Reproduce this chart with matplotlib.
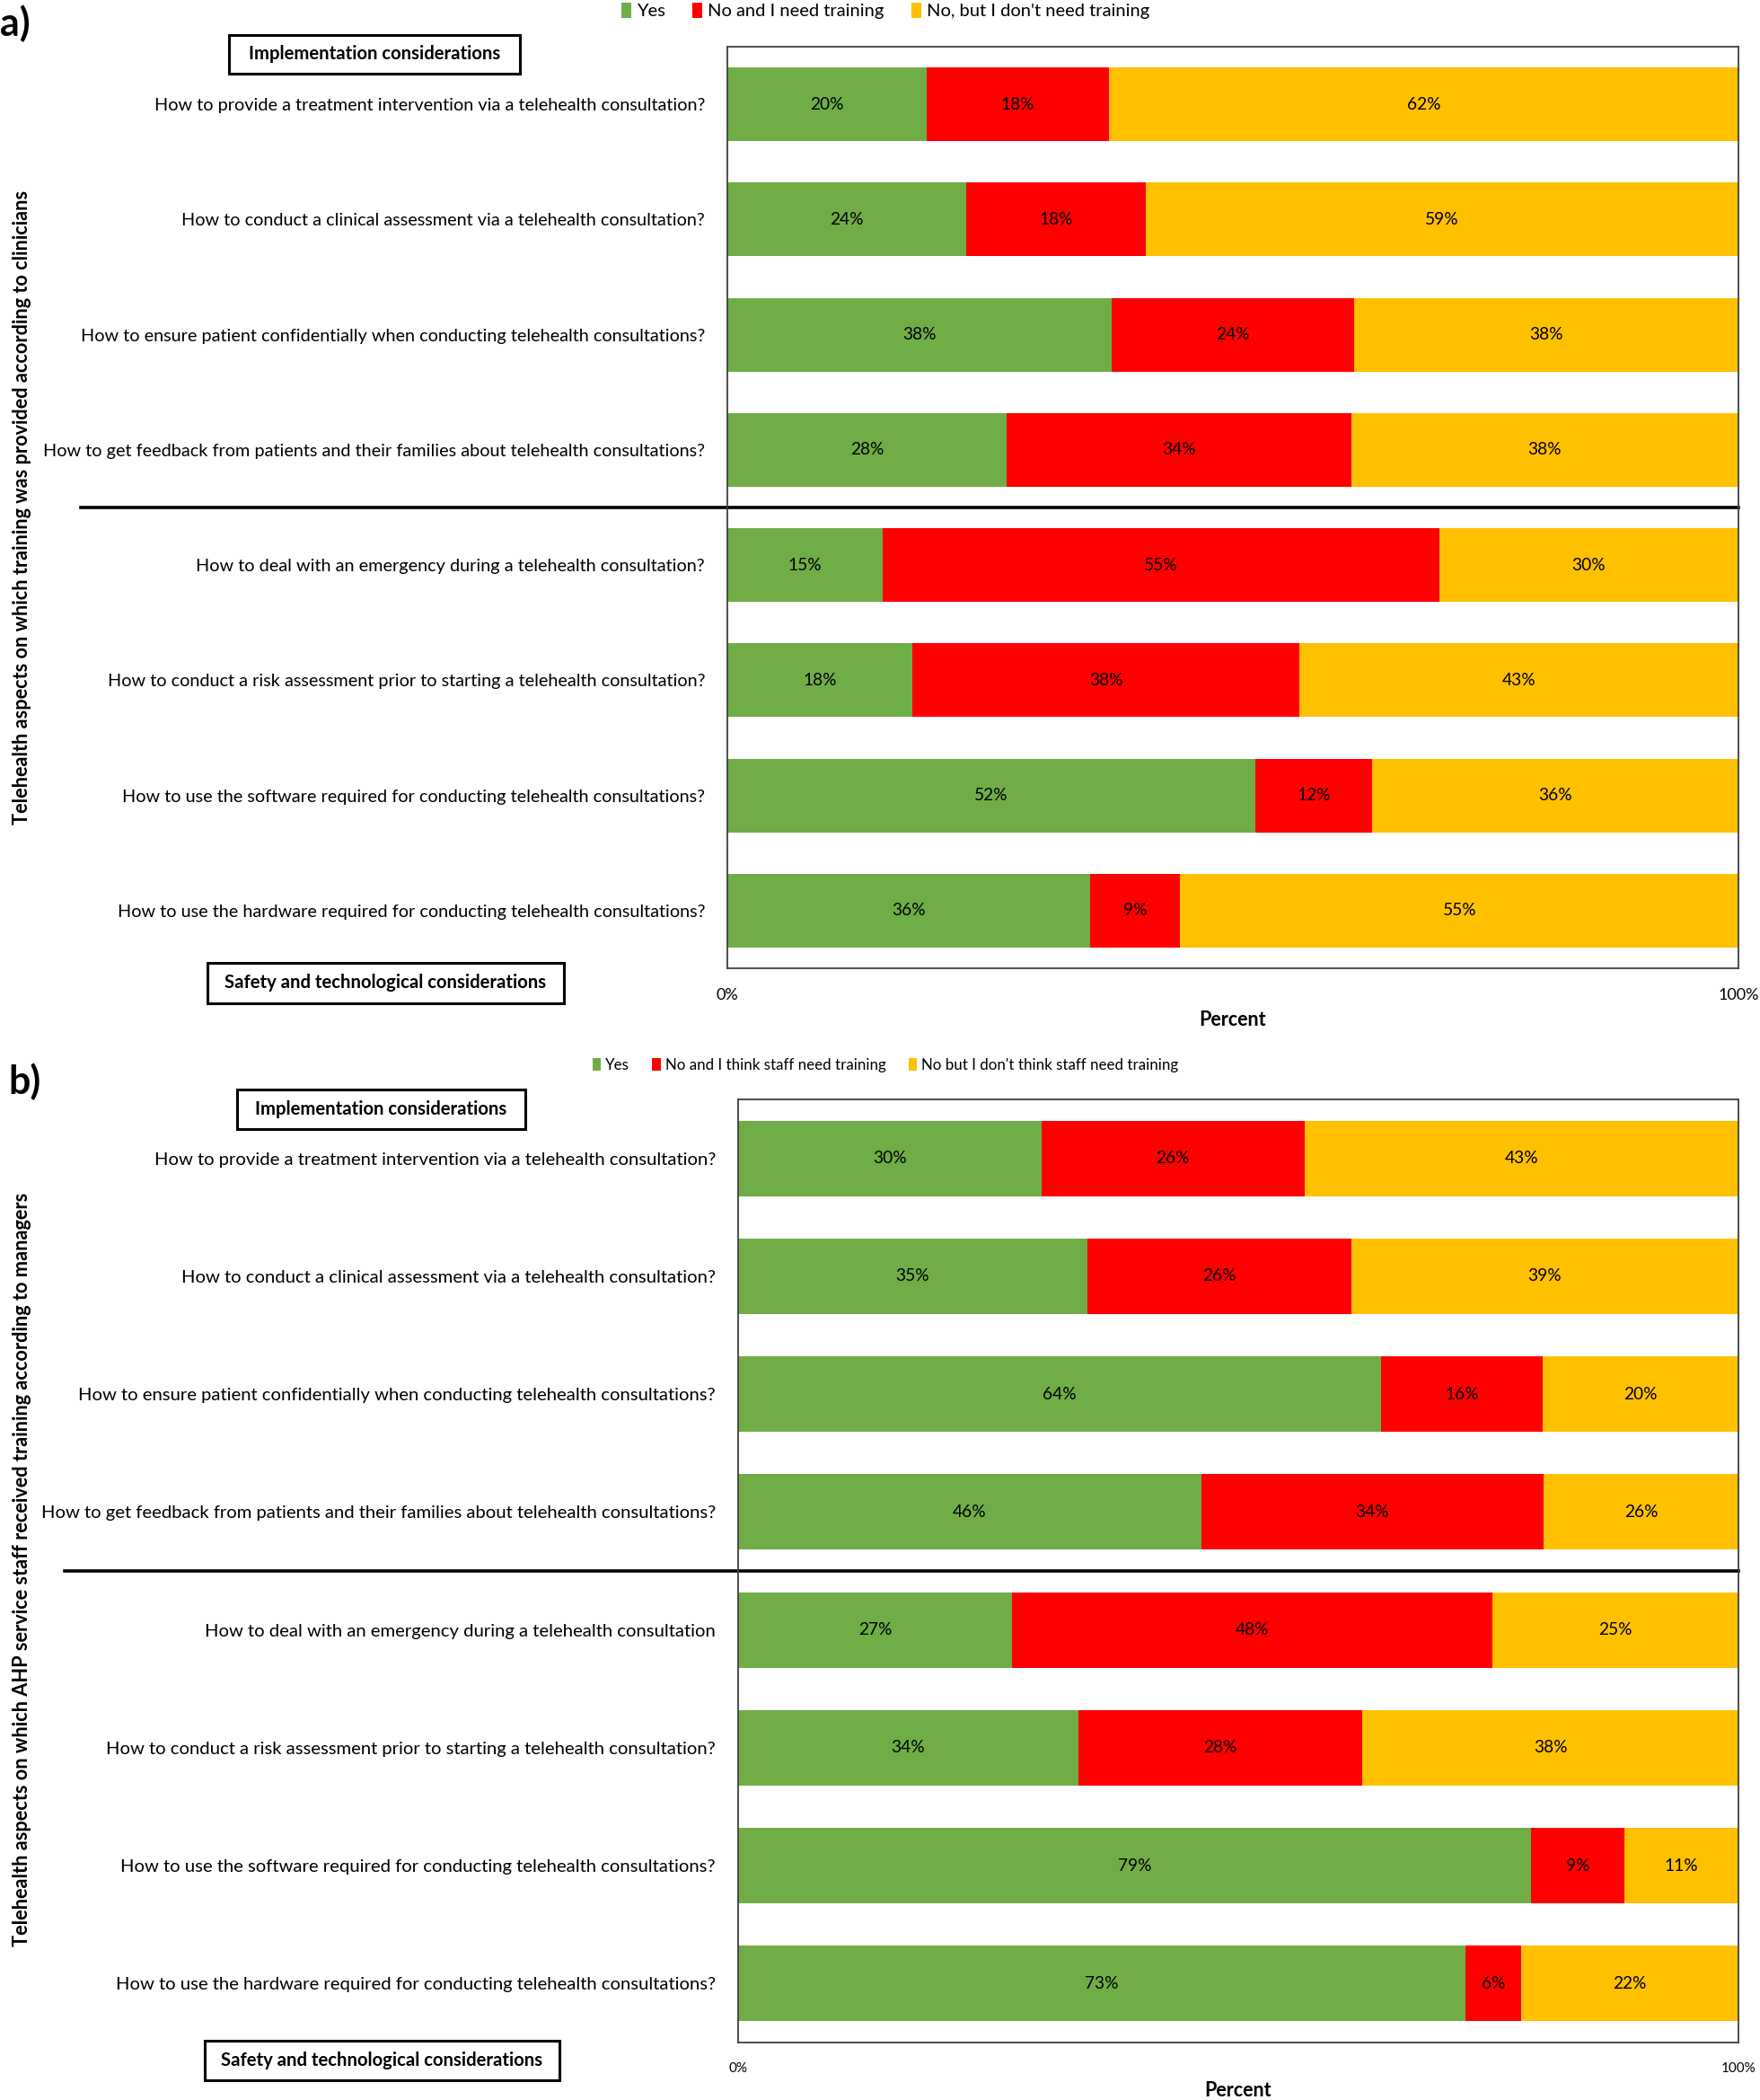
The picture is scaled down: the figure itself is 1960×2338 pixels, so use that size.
import matplotlib
matplotlib.use('Agg')
import matplotlib.pyplot as plt
import matplotlib.transforms as mtransforms
from matplotlib.patches import Patch, Rectangle
from matplotlib.lines import Line2D

plt.rcParams['font.family'] = ['Lato', 'DejaVu Sans']

# ---------------- data (percent) ----------------
questions_a = [
    "How to provide a treatment intervention via a telehealth consultation?",
    "How to conduct a clinical assessment via a telehealth consultation?",
    "How to ensure patient confidentially when conducting telehealth consultations?",
    "How to get feedback from patients and their families about telehealth consultations?",
    "How to deal with an emergency during a telehealth consultation?",
    "How to conduct a risk assessment prior to starting a telehealth consultation?",
    "How to use the software required for conducting telehealth consultations?",
    "How to use the hardware required for conducting telehealth consultations?",
]
yes_a = [19.7, 23.6, 38.0, 27.6, 15.4, 18.3, 52.2, 35.9]
no_need_a = [18.0, 17.8, 24.0, 34.1, 55.0, 38.3, 11.6, 8.9]
no_dont_a = [62.3, 58.6, 38.0, 38.3, 29.6, 43.4, 36.2, 55.2]
legend_a = ["Yes", "No and I need training", "No, but I don't need training"]
ylabel_a = "Telehealth aspects on which training was provided according to clinicians"

questions_b = [
    "How to provide a treatment intervention via a telehealth consultation?",
    "How to conduct a clinical assessment via a telehealth consultation?",
    "How to ensure patient confidentially when conducting telehealth consultations?",
    "How to get feedback from patients and their families about telehealth consultations?",
    "How to deal with an emergency during a telehealth consultation",
    "How to conduct a risk assessment prior to starting a telehealth consultation?",
    "How to use the software required for conducting telehealth consultations?",
    "How to use the hardware required for conducting telehealth consultations?",
]
yes_b = [30.3, 34.9, 64.3, 46.3, 27.4, 34.0, 79.3, 72.7]
no_need_b = [26.3, 26.4, 16.1, 34.2, 48.0, 28.4, 9.3, 5.6]
no_dont_b = [43.4, 38.7, 19.6, 25.9, 24.6, 37.6, 11.4, 21.7]
legend_b = ["Yes", "No and I think staff need training", "No but I don't think staff need training"]
ylabel_b = "Telehealth aspects on which AHP service staff received training according to managers"

group_labels = ["Implementation considerations", "Safety and technological considerations"]
xtick_vals = [0, 100]
xtick_labels = ["0%", "100%"]

colors = ["#70AD47", "#FF0000", "#FFC000"]

W, H = 1960, 2338
fig = plt.figure(figsize=(W / 100, H / 100), dpi=100)


def fx(px):
    return px / W


def fy(py):
    return 1 - py / H


def panel(rect, questions, series, legend_labels, legend_y, legend_fs, tick_fs, ytick_fs,
          xlabel_y, ylabel, ylabel_y, ylabel_fs, letter, letter_xy, box_impl, box_safe,
          divider_x0):
    left, top, right, bottom = rect
    ax = fig.add_axes([fx(left), fy(bottom), fx(right) - fx(left), (bottom - top) / H])
    n = len(questions)
    ypos = list(range(n))
    starts = [0] * n
    handles = []
    for vals, col, lab in zip(series, colors, legend_labels):
        bars = ax.barh(ypos, vals, left=starts, height=0.64, color=col, label=lab,
                       edgecolor='none')
        ax.bar_label(bars, labels=[f"{int(v + 0.5)}%" for v in vals], label_type='center',
                     fontsize=13.8, color='black', clip_on=False)
        starts = [s + v for s, v in zip(starts, vals)]
        handles.append(Patch(facecolor=col, edgecolor='none', label=lab))
    ax.set_xlim(0, 100)
    ax.set_ylim(n - 0.5, -0.5)
    ax.set_yticks(ypos)
    ax.set_yticklabels(questions, fontsize=ytick_fs)
    ax.tick_params(axis='y', length=0, pad=18)
    ax.set_xticks(xtick_vals)
    ax.set_xticklabels(xtick_labels, fontsize=tick_fs)
    ax.tick_params(axis='x', length=0, pad=16)
    for s in ax.spines.values():
        s.set_color('#404040')
        s.set_linewidth(1.3)
    # divider between the two groups
    trans = mtransforms.blended_transform_factory(fig.transFigure, ax.transData)
    ax.add_line(Line2D([fx(divider_x0), fx(right)], [3.5, 3.5], transform=trans,
                       color='black', lw=2.6, clip_on=False))
    fig.text(fx((left + right) / 2), fy(xlabel_y), "Percent", fontsize=15.5,
             fontweight='bold', ha='center', va='center')
    fig.text(fx(25), fy(ylabel_y), ylabel, fontsize=ylabel_fs, fontweight='bold',
             rotation=90, ha='center', va='center')
    fig.text(fx(letter_xy[0]), fy(letter_xy[1]), letter, fontsize=31,
             fontweight='bold', ha='left', va='center')
    fig.legend(handles=handles, loc='center', bbox_to_anchor=(fx(986), fy(legend_y)),
               ncol=3, frameon=False, fontsize=legend_fs, handlelength=0.55,
               handleheight=0.9, handletextpad=0.3, columnspacing=1.5)
    for (l, t, r, b), txt in zip([box_impl, box_safe], group_labels):
        fig.patches.append(Rectangle((fx(l), fy(b)), fx(r) - fx(l), (b - t) / H,
                                     transform=fig.transFigure, facecolor='white',
                                     edgecolor='black', lw=2.2))
        fig.text(fx((l + r) / 2), fy((t + b) / 2), txt, fontsize=14.6,
                 fontweight='bold', ha='center', va='center')
    return ax


panel((810, 52, 1936, 1078), questions_a, [yes_a, no_need_a, no_dont_a], legend_a,
      legend_y=12, legend_fs=14.5, tick_fs=13, ytick_fs=14.3, xlabel_y=1136, ylabel=ylabel_a,
      ylabel_y=565, ylabel_fs=15.6, letter="a)", letter_xy=(0, 26),
      box_impl=(255, 39, 579, 82), box_safe=(231, 1072, 628, 1117), divider_x0=90)

panel((822, 1224, 1936, 2274), questions_b, [yes_b, no_need_b, no_dont_b], legend_b,
      legend_y=1186, legend_fs=12.2, tick_fs=11, ytick_fs=14.6, xlabel_y=2328, ylabel=ylabel_b,
      ylabel_y=1747, ylabel_fs=15.7, letter="b)", letter_xy=(9, 1204),
      box_impl=(264, 1213, 585, 1257), box_safe=(228, 2272, 623, 2316), divider_x0=72)

fig.savefig("out.png", dpi=100)
